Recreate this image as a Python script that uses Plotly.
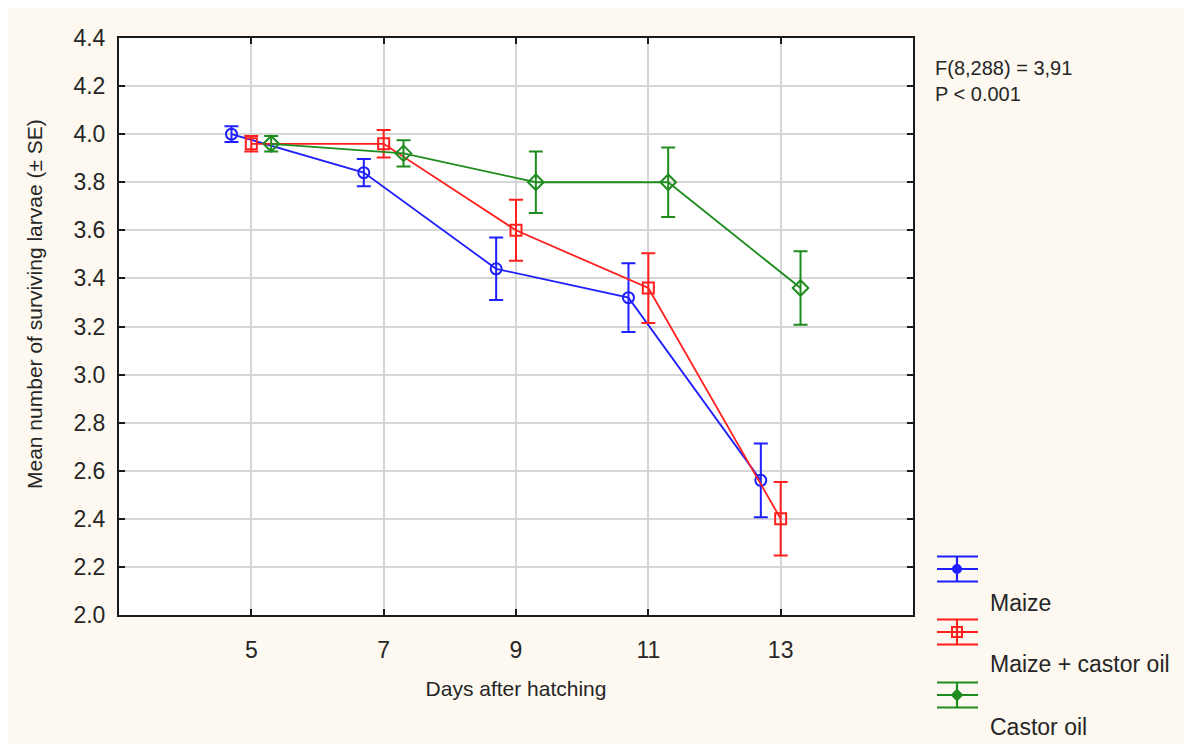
import plotly.graph_objects as go

# ---------------- data ----------------
days = [5, 7, 9, 11, 13]
day_labels = ["5", "7", "9", "11", "13"]
series_names = ["Maize", "Maize + castor oil", "Castor oil"]
maize_mean = [4.00, 3.84, 3.44, 3.32, 2.56]
maize_se = [0.033, 0.057, 0.13, 0.143, 0.153]
mix_mean = [3.96, 3.96, 3.60, 3.36, 2.40]
mix_se = [0.032, 0.057, 0.127, 0.145, 0.153]
castor_mean = [3.96, 3.92, 3.80, 3.80, 3.36]
castor_se = [0.032, 0.055, 0.128, 0.145, 0.153]
y_ticks = [2.0, 2.2, 2.4, 2.6, 2.8, 3.0, 3.2, 3.4, 3.6, 3.8, 4.0, 4.2, 4.4]
y_tick_labels = ["2.0", "2.2", "2.4", "2.6", "2.8", "3.0", "3.2", "3.4",
                 "3.6", "3.8", "4.0", "4.2", "4.4"]
stats_lines = ["F(8,288) = 3,91", "P &lt; 0.001"]
x_title = "Days after hatching"
y_title = "Mean number of surviving larvae (± SE)"

# ---------------- style ----------------
OFF = 8                      # page body margin of the html page
W, H = 1192 - OFF, 744 - OFF
# plot area in page pixels
PL, PR, PT, PB = 119, 913, 38, 615
L, R, T, B = PL - OFF, PR - OFF, PT - OFF, PB - OFF
FONT = "Arial, 'Liberation Sans', sans-serif"
TXT = "#262626"
CREAM = "#fdf9f0"
colors = ["#1f1fff", "#ff1f1f", "#1e8c1e"]
symbols = ["circle-open", "square-open", "diamond-open"]
msizes = [11, 11, 12]
offsets = [-0.3, 0.0, 0.3]


def xp(px):
    """page pixel x -> paper"""
    return (px - PL) / (PR - PL)


def yp(py):
    """page pixel y -> paper"""
    return (PB - py) / (PB - PT)


fig = go.Figure()
means = [maize_mean, mix_mean, castor_mean]
ses = [maize_se, mix_se, castor_se]
for name, m, s, c, sym, ms, off in zip(series_names, means, ses, colors,
                                        symbols, msizes, offsets):
    fig.add_trace(go.Scatter(
        x=[d + off for d in days], y=m, name=name,
        mode="lines+markers",
        line=dict(color=c, width=1.8),
        marker=dict(symbol=sym, size=ms, color=c, line=dict(width=2, color=c)),
        error_y=dict(type="data", array=s, visible=True, color=c,
                     thickness=2, width=7),
        showlegend=False,
    ))

shapes = []
annotations = []
# manual legend (error-bar style icons)
leg_mid = [569, 632, 695]
leg_text_y = [603, 664, 727]
for i, (name, c) in enumerate(zip(series_names, colors)):
    ym = leg_mid[i]
    for dy in (-12.5, 0, 12.5):
        shapes.append(dict(type="line", xref="paper", yref="paper",
                           x0=xp(937), x1=xp(978), y0=yp(ym + dy), y1=yp(ym + dy),
                           line=dict(color=c, width=2.2)))
    shapes.append(dict(type="line", xref="paper", yref="paper",
                       x0=xp(957), x1=xp(957), y0=yp(ym - 12.5), y1=yp(ym + 12.5),
                       line=dict(color=c, width=2.2)))
    if i == 0:
        shapes.append(dict(type="circle", xref="paper", yref="paper",
                           x0=xp(953), x1=xp(961), y0=yp(ym + 4), y1=yp(ym - 4),
                           line=dict(color=c, width=2), fillcolor=c))
    elif i == 1:
        shapes.append(dict(type="rect", xref="paper", yref="paper",
                           x0=xp(952), x1=xp(962), y0=yp(ym + 5), y1=yp(ym - 5),
                           line=dict(color=c, width=2), fillcolor="rgba(0,0,0,0)"))
    else:
        path = "M {} {} L {} {} L {} {} L {} {} Z".format(
            xp(957), yp(ym - 5), xp(962), yp(ym), xp(957), yp(ym + 5), xp(952), yp(ym))
        shapes.append(dict(type="path", xref="paper", yref="paper", path=path,
                           line=dict(color=c, width=2), fillcolor=c))
    annotations.append(dict(text=name, xref="paper", yref="paper",
                            x=xp(988), y=yp(leg_text_y[i]), xanchor="left",
                            yanchor="middle", showarrow=False,
                            font=dict(family=FONT, size=23, color=TXT)))

# statistics text
annotations.append(dict(text="<br>".join(stats_lines), xref="paper", yref="paper",
                        x=xp(933), y=yp(55), xanchor="left", yanchor="top",
                        align="left", showarrow=False,
                        font=dict(family=FONT, size=20, color=TXT)))
# y axis title
annotations.append(dict(text=y_title, xref="paper", yref="paper",
                        x=xp(34), y=yp(304), xanchor="center", yanchor="middle",
                        textangle=-90, showarrow=False,
                        font=dict(family=FONT, size=21, color=TXT)))

axis_common = dict(showline=True, linecolor="#1a1a1a", linewidth=2,
                   mirror="ticks", ticks="inside", ticklen=6, tickwidth=1.5,
                   tickcolor="#1a1a1a", showgrid=True, gridcolor="#d6d6d6",
                   gridwidth=1.5, zeroline=False)

fig.update_layout(
    width=W, height=H,
    margin=dict(l=L, r=W - R, t=T, b=H - B, pad=0),
    paper_bgcolor=CREAM, plot_bgcolor="white",
    font=dict(family=FONT, color=TXT),
    xaxis=dict(range=[3, 15], tickvals=days, ticktext=day_labels,
               tickfont=dict(size=23, color=TXT), ticklabelstandoff=13,
               title=dict(text=x_title, font=dict(size=21, color=TXT), standoff=20),
               **axis_common),
    yaxis=dict(range=[2.0, 4.4], tickvals=y_ticks, ticktext=y_tick_labels,
               tickfont=dict(size=23, color=TXT), ticklabelstandoff=7,
               **axis_common),
    shapes=shapes,
    annotations=annotations,
)

fig.write_html("out.html")
